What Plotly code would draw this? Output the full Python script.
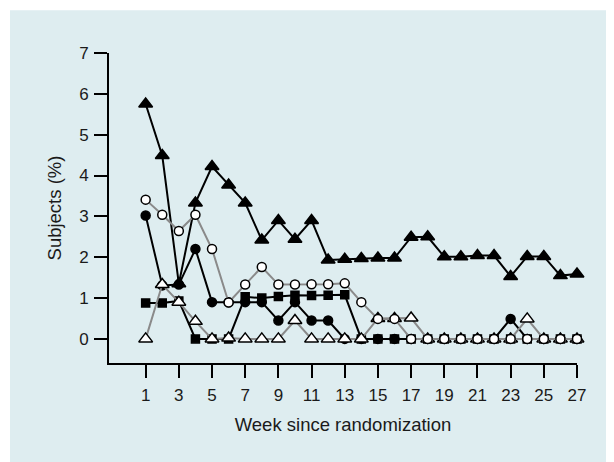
import plotly.graph_objects as go

weeks = list(range(1, 28))

filled_triangles = [5.75, 4.49, 1.35, 3.33, 4.22, 3.77, 3.33, 2.42, 2.90, 2.44, 2.90, 1.93, 1.95,
                    1.97, 1.98, 1.98, 2.49, 2.50, 2.01, 2.01, 2.04, 2.04, 1.53, 2.02, 2.02, 1.55, 1.59]
filled_circles = [3.02, 1.31, 1.33, 2.20, 0.90, 0.90, 0.90, 0.90, 0.45, 0.90, 0.45, 0.45, 0.0,
                  0, 0, 0, 0, 0, 0, 0, 0, 0, 0.49, 0, 0, 0, 0]
filled_squares = [0.88, 0.88, 0.93, 0.0, 0.0, 0.0, 1.03, 1.00, 1.04, 1.07, 1.06, 1.07, 1.08,
                  0, 0, 0, 0, 0, 0, 0, 0, 0, 0, 0, 0, 0, 0]
open_triangles = [0.0, 1.33, 0.90, 0.43, 0.0, 0.02, 0.0, 0.0, 0.0, 0.45, 0.0, 0.0, 0.0,
                  0.0, 0.50, 0.50, 0.51, 0, 0, 0, 0, 0, 0, 0.49, 0, 0, 0]
open_circles = [3.41, 3.04, 2.64, 3.04, 2.20, 0.89, 1.33, 1.76, 1.33, 1.33, 1.34, 1.34, 1.36,
                0.90, 0.49, 0.49, 0, 0, 0, 0, 0, 0, 0, 0, 0, 0, 0]

x_ticks = list(range(1, 28, 2))
y_ticks = list(range(0, 8))

GRAY = "#8a8a8a"
BLACK = "#000000"
PANEL = "#deedf0"

fig = go.Figure()

def add(y, symbol, size, fill, line_color):
    fig.add_trace(go.Scatter(
        x=weeks, y=y, mode="lines+markers",
        line=dict(color=line_color, width=2),
        marker=dict(symbol=symbol, size=size, color=fill,
                    line=dict(color=BLACK, width=1.5)),
        cliponaxis=False, showlegend=False, hoverinfo="x+y"))

add(filled_triangles, "triangle-up", 12, BLACK, BLACK)
add(filled_circles, "circle", 9, BLACK, BLACK)
add(filled_squares, "square", 8, BLACK, BLACK)
add(open_triangles, "triangle-up", 12, "white", GRAY)
add(open_circles, "circle", 9, "white", GRAY)

# page has an 8px body margin, so figure coords = page coords - 8
OFF = 8
FW, FH = 614, 462
L, R, T, B = 109 - OFF, 577 - OFF, 52.7 - OFF, 362.7 - OFF
W, H = R - L, B - T

# white strips for the narrow border at the top and left of the panel
fig.add_shape(type="rect", xref="paper", yref="paper",
              x0=-L / W - 0.01, x1=(10 - OFF - L) / W,
              y0=(B - FH) / H - 0.05, y1=(B + 0.0) / H + 0.2,
              fillcolor="white", line=dict(width=0), layer="below")
fig.add_shape(type="rect", xref="paper", yref="paper",
              x0=-L / W - 0.01, x1=(FW - L) / W + 0.05,
              y0=(B - (10 - OFF)) / H, y1=B / H + 0.01,
              fillcolor="white", line=dict(width=0), layer="below")

fig.update_layout(
    width=FW, height=FH,
    margin=dict(l=L, r=FW - R, t=T, b=FH - B, autoexpand=False),
    paper_bgcolor=PANEL, plot_bgcolor="rgba(0,0,0,0)",
    font=dict(family="Liberation Sans, Arial, sans-serif", size=17, color="#1a1a1a"),
    xaxis=dict(range=[-1.21, 27], tickvals=x_ticks, ticktext=[str(v) for v in x_ticks],
               showgrid=False, zeroline=False, showline=True, linecolor=BLACK, linewidth=2,
               ticks="outside", ticklen=13, tickwidth=1.5, tickcolor=BLACK,
               ticklabelstandoff=3, automargin=False,
               title=dict(text="Week since randomization", font=dict(size=18.5), standoff=14)),
    yaxis=dict(range=[-0.59, 7], tickvals=y_ticks, ticktext=[str(v) for v in y_ticks],
               showgrid=False, zeroline=False, showline=True, linecolor=BLACK, linewidth=2,
               ticks="outside", ticklen=13, tickwidth=1.5, tickcolor=BLACK,
               ticklabelstandoff=2, automargin=False,
               title=dict(text="Subjects (%)", font=dict(size=18.5), standoff=13)),
)

fig.write_html("out.html")
